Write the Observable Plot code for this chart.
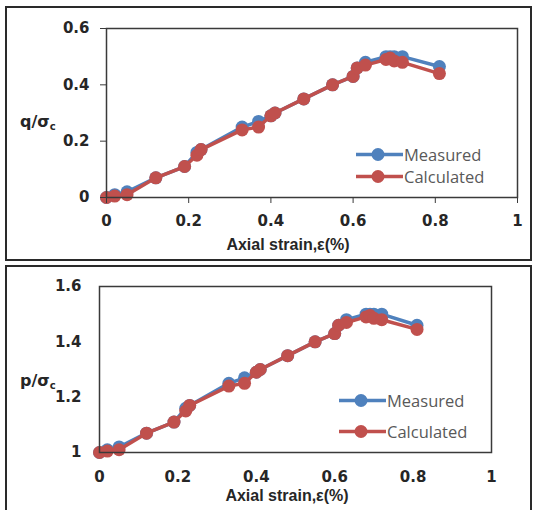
<!DOCTYPE html>
<html>
<head>
<meta charset="utf-8">
<script src="https://cdn.jsdelivr.net/npm/d3@7"></script>
<script src="https://cdn.jsdelivr.net/npm/@observablehq/plot@0.6"></script>
<style>
  html, body { margin: 0; padding: 0; }
  body { width: 534px; height: 510px; position: relative; overflow: hidden; background: #ffffff; }
  .panel { position: absolute; box-sizing: border-box; border: 2px solid #2a2a2a; background: #fff; }
  .chart { position: absolute; left: 0; }
  .xtitle { position: absolute; transform: translate(-50%, -50%); font-family: "Liberation Sans", Arial, sans-serif; font-weight: bold; font-size: 16px; color: #262626; white-space: nowrap; }
  .ytitle { position: absolute; transform: translateY(-50%); font-family: "DejaVu Sans", sans-serif; font-weight: bold; font-size: 16px; color: #262626; white-space: nowrap; }
  .ytitle sub { font-size: 10px; vertical-align: -3px; }
  .leg { position: absolute; display: flex; align-items: center; transform: translateY(-50%); font-family: "Open Sans", sans-serif; font-size: 16.5px; color: #595959; white-space: nowrap; }
  .leg svg { margin-right: 1px; }
</style>
</head>
<body>
<div class="panel" style="left:5px; top:6px; width:527px; height:255px;"></div>
<div class="panel" style="left:5px; top:265px; width:527px; height:250px;"></div>
<div id="c1" class="chart" style="top:0px;"></div>
<div id="c2" class="chart" style="top:260px;"></div>
<div class="ytitle" style="left:20px; top:122px;">q/σ<sub>c</sub></div>
<div class="ytitle" style="left:20px; top:381px;">p/σ<sub>c</sub></div>
<div class="xtitle" style="left:288px; top:245px;">Axial strain,ε(%)</div>
<div class="xtitle" style="left:287px; top:496px;">Axial strain,ε(%)</div>
<div id="leg1"></div>
<div id="leg2"></div>
<script>
// ---- data ----
const strain      = [0, 0.02, 0.05, 0.12, 0.19, 0.22, 0.23, 0.33, 0.37, 0.40, 0.41, 0.48, 0.55, 0.60, 0.61, 0.63, 0.68, 0.69, 0.70, 0.72, 0.81];
const qMeasured   = [0, 0.01, 0.02, 0.07, 0.11, 0.16, 0.17, 0.25, 0.27, 0.29, 0.30, 0.35, 0.40, 0.43, 0.46, 0.48, 0.50, 0.50, 0.50, 0.50, 0.465];
const qCalculated = [0, 0.005, 0.01, 0.07, 0.11, 0.15, 0.17, 0.24, 0.25, 0.29, 0.30, 0.35, 0.40, 0.43, 0.46, 0.47, 0.49, 0.495, 0.485, 0.48, 0.44];
const pMeasured   = [1, 1.01, 1.02, 1.07, 1.11, 1.16, 1.17, 1.25, 1.27, 1.29, 1.30, 1.35, 1.40, 1.43, 1.46, 1.48, 1.50, 1.50, 1.50, 1.50, 1.46];
const pCalculated = [1, 1.005, 1.01, 1.07, 1.11, 1.15, 1.17, 1.24, 1.25, 1.29, 1.30, 1.35, 1.40, 1.43, 1.46, 1.47, 1.49, 1.495, 1.485, 1.48, 1.445];

const seriesNames  = ["Measured", "Calculated"];
const seriesColors = ["#4F81BD", "#C0504D"];

const xTicks      = [0, 0.2, 0.4, 0.6, 0.8, 1];
const xTickLabels = ["0", "0.2", "0.4", "0.6", "0.8", "1"];
const qTicks      = [0, 0.2, 0.4, 0.6];
const qTickLabels = ["0", "0.2", "0.4", "0.6"];
const pTicks      = [1, 1.2, 1.4, 1.6];
const pTickLabels = ["1", "1.2", "1.4", "1.6"];

function rows(ys) { return strain.map((x, i) => ({x, y: ys[i]})); }
function labeler(ticks, labels) { return d => labels[ticks.indexOf(d)] ?? String(d); }

function seriesMarks(measured, calculated) {
  const sets = [rows(measured), rows(calculated)];
  const marks = [];
  sets.forEach((data, i) => {
    marks.push(Plot.line(data, {x: "x", y: "y", stroke: seriesColors[i], strokeWidth: 3.5}));
    marks.push(Plot.dot(data, {x: "x", y: "y", r: 6.5, fill: seriesColors[i], stroke: "none"}));
  });
  return marks;
}

const baseStyle = {background: "transparent", fontFamily: "DejaVu Sans, sans-serif", fontSize: "15px", fontWeight: "bold", color: "#262626", overflow: "visible"};

const chart1 = Plot.plot({
  width: 534, height: 260,
  marginLeft: 106, marginRight: 17, marginTop: 28, marginBottom: 63,
  style: baseStyle,
  x: {domain: [0, 1]},
  y: {domain: [0, 0.6]},
  marks: [
    ...seriesMarks(qMeasured, qCalculated),
    Plot.frame({stroke: "#3a3a3a", strokeWidth: 1.5}),
    Plot.axisX(xTicks, {tickFormat: labeler(xTicks, xTickLabels), tickSize: 6, tickPadding: 12, stroke: "#3a3a3a", label: null}),
    Plot.axisY(qTicks, {tickFormat: labeler(qTicks, qTickLabels), tickSize: 6, tickPadding: 11, stroke: "#3a3a3a", label: null})
  ]
});
document.getElementById("c1").appendChild(chart1);

const chart2 = Plot.plot({
  width: 534, height: 250,
  marginLeft: 99, marginRight: 43, marginTop: 26, marginBottom: 58,
  style: baseStyle,
  x: {domain: [0, 1]},
  y: {domain: [1, 1.6]},
  marks: [
    ...seriesMarks(pMeasured, pCalculated),
    Plot.frame({stroke: "#3a3a3a", strokeWidth: 1.5}),
    Plot.axisX(xTicks, {tickFormat: labeler(xTicks, xTickLabels), tickSize: 0, tickPadding: 19, label: null}),
    Plot.axisY(pTicks, {tickFormat: labeler(pTicks, pTickLabels), tickSize: 0, tickPadding: 18, label: null})
  ]
});
document.getElementById("c2").appendChild(chart2);

function legend(containerId, left, tops) {
  const c = document.getElementById(containerId);
  seriesNames.forEach((name, i) => {
    const d = document.createElement("div");
    d.className = "leg";
    d.style.left = left + "px";
    d.style.top = tops[i] + "px";
    d.innerHTML = `<svg width="47" height="16"><line x1="0" y1="8" x2="47" y2="8" stroke="${seriesColors[i]}" stroke-width="3.5"/><circle cx="22" cy="8" r="6.5" fill="${seriesColors[i]}"/></svg><span>${name}</span>`;
    c.appendChild(d);
  });
}
legend("leg1", 356, [154, 176]);
legend("leg2", 339, [400, 431]);
</script>
</body>
</html>
